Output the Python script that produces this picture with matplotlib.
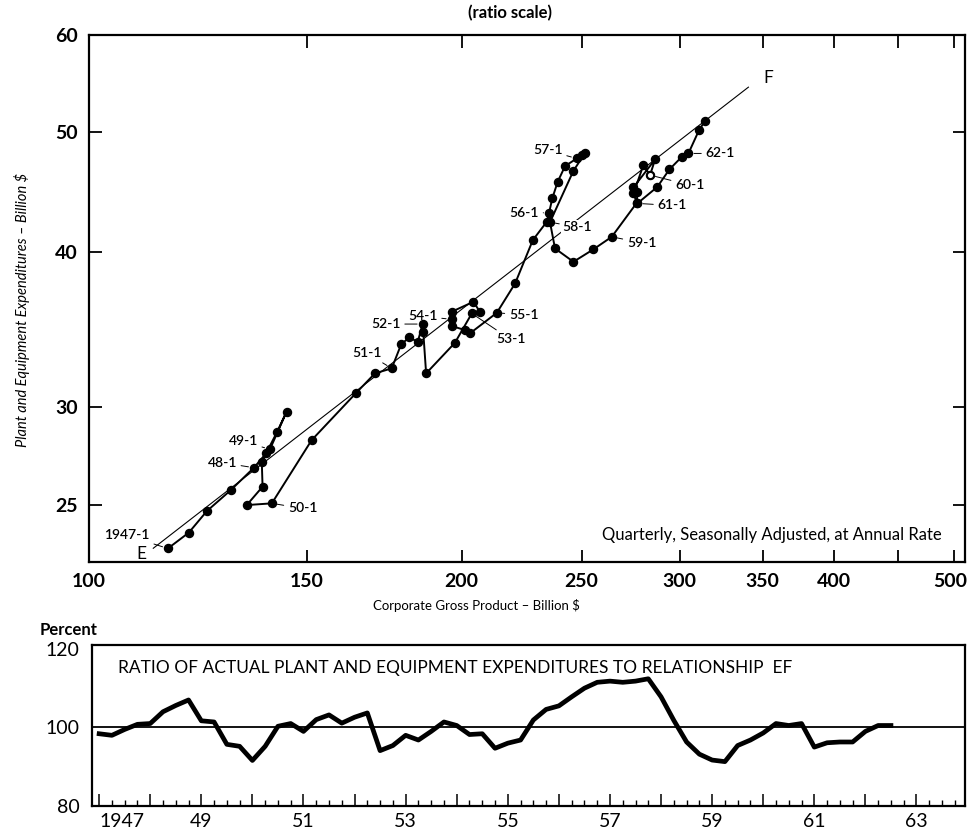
import matplotlib.pyplot as plt
import matplotlib.transforms as mtransforms
import numpy as np

plt.rcParams['font.family'] = ['Lato', 'DejaVu Sans']

# quarterly points, 1947-1 .. 1962-3
gnp = [115.8, 120.4, 124.5, 130.2,
       135.9, 139.0, 141.9, 144.4,
       140.0, 137.9, 138.1, 134.1,
       140.5, 151.3, 164.2, 170.2,
       175.6, 178.7, 181.4, 184.3,
       186.0, 186.2, 187.2, 197.5,
       203.8, 206.9, 204.4, 196.3,
       196.3, 196.3, 201.3, 203.1,
       213.5, 220.9, 228.3, 234.3,
       235.3, 236.7, 239.1, 242.4,
       247.7, 250.1, 251.6, 246.2,
       235.7, 237.9, 246.2, 255.5,
       264.4, 277.0, 275.3, 280.4,
       283.9, 286.6, 275.3, 277.0,
       277.3, 287.8, 294.3, 301.2,
       304.9, 311.0, 314.5]
plant_eq = [23.06, 23.75, 24.72, 25.71,
            26.80, 27.52, 28.65, 29.74,
            27.73, 27.10, 25.87, 25.00,
            25.08, 28.21, 30.77, 31.94,
            32.24, 33.71, 34.15, 33.87,
            35.01, 34.51, 31.94, 33.81,
            35.71, 35.82, 36.49, 35.82,
            35.32, 34.88, 34.62, 34.41,
            35.75, 37.76, 40.93, 42.35,
            43.06, 44.23, 45.62, 46.97,
            47.64, 47.94, 48.14, 46.56,
            42.32, 40.30, 39.31, 40.23,
            41.18, 43.87, 44.64, 47.05,
            46.19, 47.56, 45.15, 44.78,
            43.82, 45.19, 46.68, 47.79,
            48.09, 50.22, 51.10]

# line EF
ef_gnp = [112.7, 340.9]
ef_pe = [23.07, 54.4]

# labelled quarters: (text, point index, text offset in px, ha)
point_labels = [("1947-1", 0, (-18, 13), 'right'),
                ("48-1", 4, (-17, 5), 'right'),
                ("49-1", 8, (-12, 8), 'right'),
                ("50-1", 12, (16, -5), 'left'),
                ("51-1", 16, (-10, 15), 'right'),
                ("52-1", 20, (-22, 0), 'right'),
                ("53-1", 24, (24, -26), 'left'),
                ("54-1", 28, (-14, 3), 'right'),
                ("55-1", 32, (12, -2), 'left'),
                ("56-1", 36, (-10, 0), 'right'),
                ("57-1", 40, (-14, 8), 'right'),
                ("58-1", 44, (12, -5), 'left'),
                ("59-1", 48, (15, -6), 'left'),
                ("60-1", 52, (25, -10), 'left'),
                ("61-1", 56, (20, -2), 'left'),
                ("62-1", 60, (17, 0), 'left')]

# ratio of actual to relationship EF, percent
ratio = [98.4, 98.0, 99.5, 100.8,
         101.0, 104.0, 105.6, 107.0,
         101.7, 101.4, 95.7, 95.2,
         91.6, 95.2, 100.3, 101.0,
         99.0, 102.0, 103.2, 101.1,
         102.6, 103.7, 94.1, 95.4,
         98.0, 96.8, 99.0, 101.4,
         100.5, 98.2, 98.4, 94.7,
         96.0, 96.8, 101.9, 104.6,
         105.5, 107.8, 110.0, 111.5,
         111.8, 111.5, 111.8, 112.4,
         107.8, 101.8, 96.3, 93.2,
         91.7, 91.3, 95.4, 96.8,
         98.6, 101.0, 100.5, 101.0,
         95.0, 96.1, 96.3, 96.3,
         99.0, 100.5, 100.5]
ratio_dates = 1947 + np.arange(len(ratio)) / 4.0
year_labels = ['1947', '49', '51', '53', '55', '57', '59', '61', '63']

W, H = 969, 832
PX = 0.72  # points per pixel at 100 dpi

fig = plt.figure(figsize=(W / 100, H / 100), dpi=100)

# ---------- scatter, ratio scale ----------
l, r, t, b = 89, 965, 34.5, 561.7
ax = fig.add_axes([l / W, 1 - b / H, (r - l) / W, (b - t) / H])
ax.set_xscale('log')
ax.set_yscale('log')
ax.set_xlim(100, 510)
ax.set_ylim(22.5, 60)

ax.plot(ef_gnp, ef_pe, color='black', lw=0.8)
ax.plot(gnp, plant_eq, color='black', lw=1.4, marker='o', ms=5.8)
ax.plot(gnp[52], plant_eq[52], marker='o', ms=5, mfc='white', mec='black', mew=1.3)

for txt, i, (dx, dy), ha in point_labels:
    bb = dict(boxstyle='square,pad=0.1', fc='white', ec='none') if txt == "58-1" else None
    ax.annotate(txt, xy=(gnp[i], plant_eq[i]), xytext=(dx * PX, dy * PX),
                textcoords='offset points', ha=ha, va='center', fontsize=10,
                fontweight='semibold', bbox=bb,
                arrowprops=dict(arrowstyle='-', lw=0.7, color='black',
                                shrinkA=1, shrinkB=4))

ax.annotate('E', xy=(ef_gnp[0], ef_pe[0]), xytext=(-12 * PX, -6 * PX),
            textcoords='offset points', ha='center', va='center', fontsize=12.5)
ax.annotate('F', xy=(ef_gnp[1], ef_pe[1]), xytext=(20 * PX, 9 * PX),
            textcoords='offset points', ha='center', va='center', fontsize=12.5)

ax.text(0.973, 0.05, 'Quarterly, Seasonally Adjusted, at Annual Rate',
        transform=ax.transAxes, ha='right', va='center', fontsize=12)

ax.set_xticks([100, 150, 200, 250, 300, 350, 400, 450, 500])
ax.set_xticklabels(['100', '150', '200', '250', '300', '350', '400', '', '500'])
ax.set_yticks([25, 30, 40, 50, 60])
ax.set_yticklabels(['25', '30', '40', '50', '60'])
ax.minorticks_off()
ax.tick_params(which='major', direction='in', length=9, width=1.3,
               top=True, right=True, labelsize=14, pad=8)
for lab in ax.get_xticklabels() + ax.get_yticklabels():
    lab.set_fontweight('bold')
# last label sits against the right edge
last = ax.get_xticklabels()[-1]
last.set_transform(last.get_transform() +
                   mtransforms.ScaledTranslation(-4 / 100, 0, fig.dpi_scale_trans))
for s in ax.spines.values():
    s.set_linewidth(1.6)

fig.text(510 / W, 1 - 13 / H, '(ratio scale)', ha='center', va='center',
         fontsize=12, fontweight='bold')
fig.text(22 / W, 1 - 310 / H, 'Plant and Equipment Expenditures \u2013 Billion $',
         rotation=90, ha='center', va='center', fontsize=10.5, style='italic')
fig.text(476 / W, 1 - 605 / H, 'Corporate Gross Product \u2013 Billion $',
         ha='center', va='center', fontsize=9.5)

# ---------- ratio panel ----------
l2, r2, t2, b2 = 92, 965, 645, 806
ax2 = fig.add_axes([l2 / W, 1 - b2 / H, (r2 - l2) / W, (b2 - t2) / H])
ax2.plot(ratio_dates, ratio, color='black', lw=3.4, solid_joinstyle='round')
ax2.axhline(100, color='black', lw=1.3)
ax2.set_xlim(1946.86, 1963.95)
ax2.set_ylim(80, 121)
ax2.set_xticks(np.arange(1947, 1964))
ax2.set_xticklabels([year_labels[(y - 1947) // 2] if (y - 1947) % 2 == 0 else ''
                     for y in range(1947, 1964)])
ax2.get_xticklabels()[0].set_horizontalalignment('left')
ax2.set_xticks(np.arange(1947, 1964, 0.25), minor=True)
ax2.set_yticks([80, 100, 120])
ax2.tick_params(axis='x', which='major', direction='in', length=9, width=1.1,
                labelsize=14, pad=5)
ax2.tick_params(axis='x', which='minor', direction='in', length=4.5, width=1.0)
ax2.tick_params(axis='y', length=0, labelsize=14, pad=9)
for s in ax2.spines.values():
    s.set_linewidth(1.6)
ax2.text(0.03, 0.86, 'RATIO OF ACTUAL PLANT AND EQUIPMENT EXPENDITURES TO RELATIONSHIP  EF',
         transform=ax2.transAxes, ha='left', va='center', fontsize=12.5)
fig.text(40 / W, 1 - 630 / H, 'Percent', ha='left', va='center',
         fontsize=12, fontweight='bold')

fig.savefig('out.png', dpi=100)
